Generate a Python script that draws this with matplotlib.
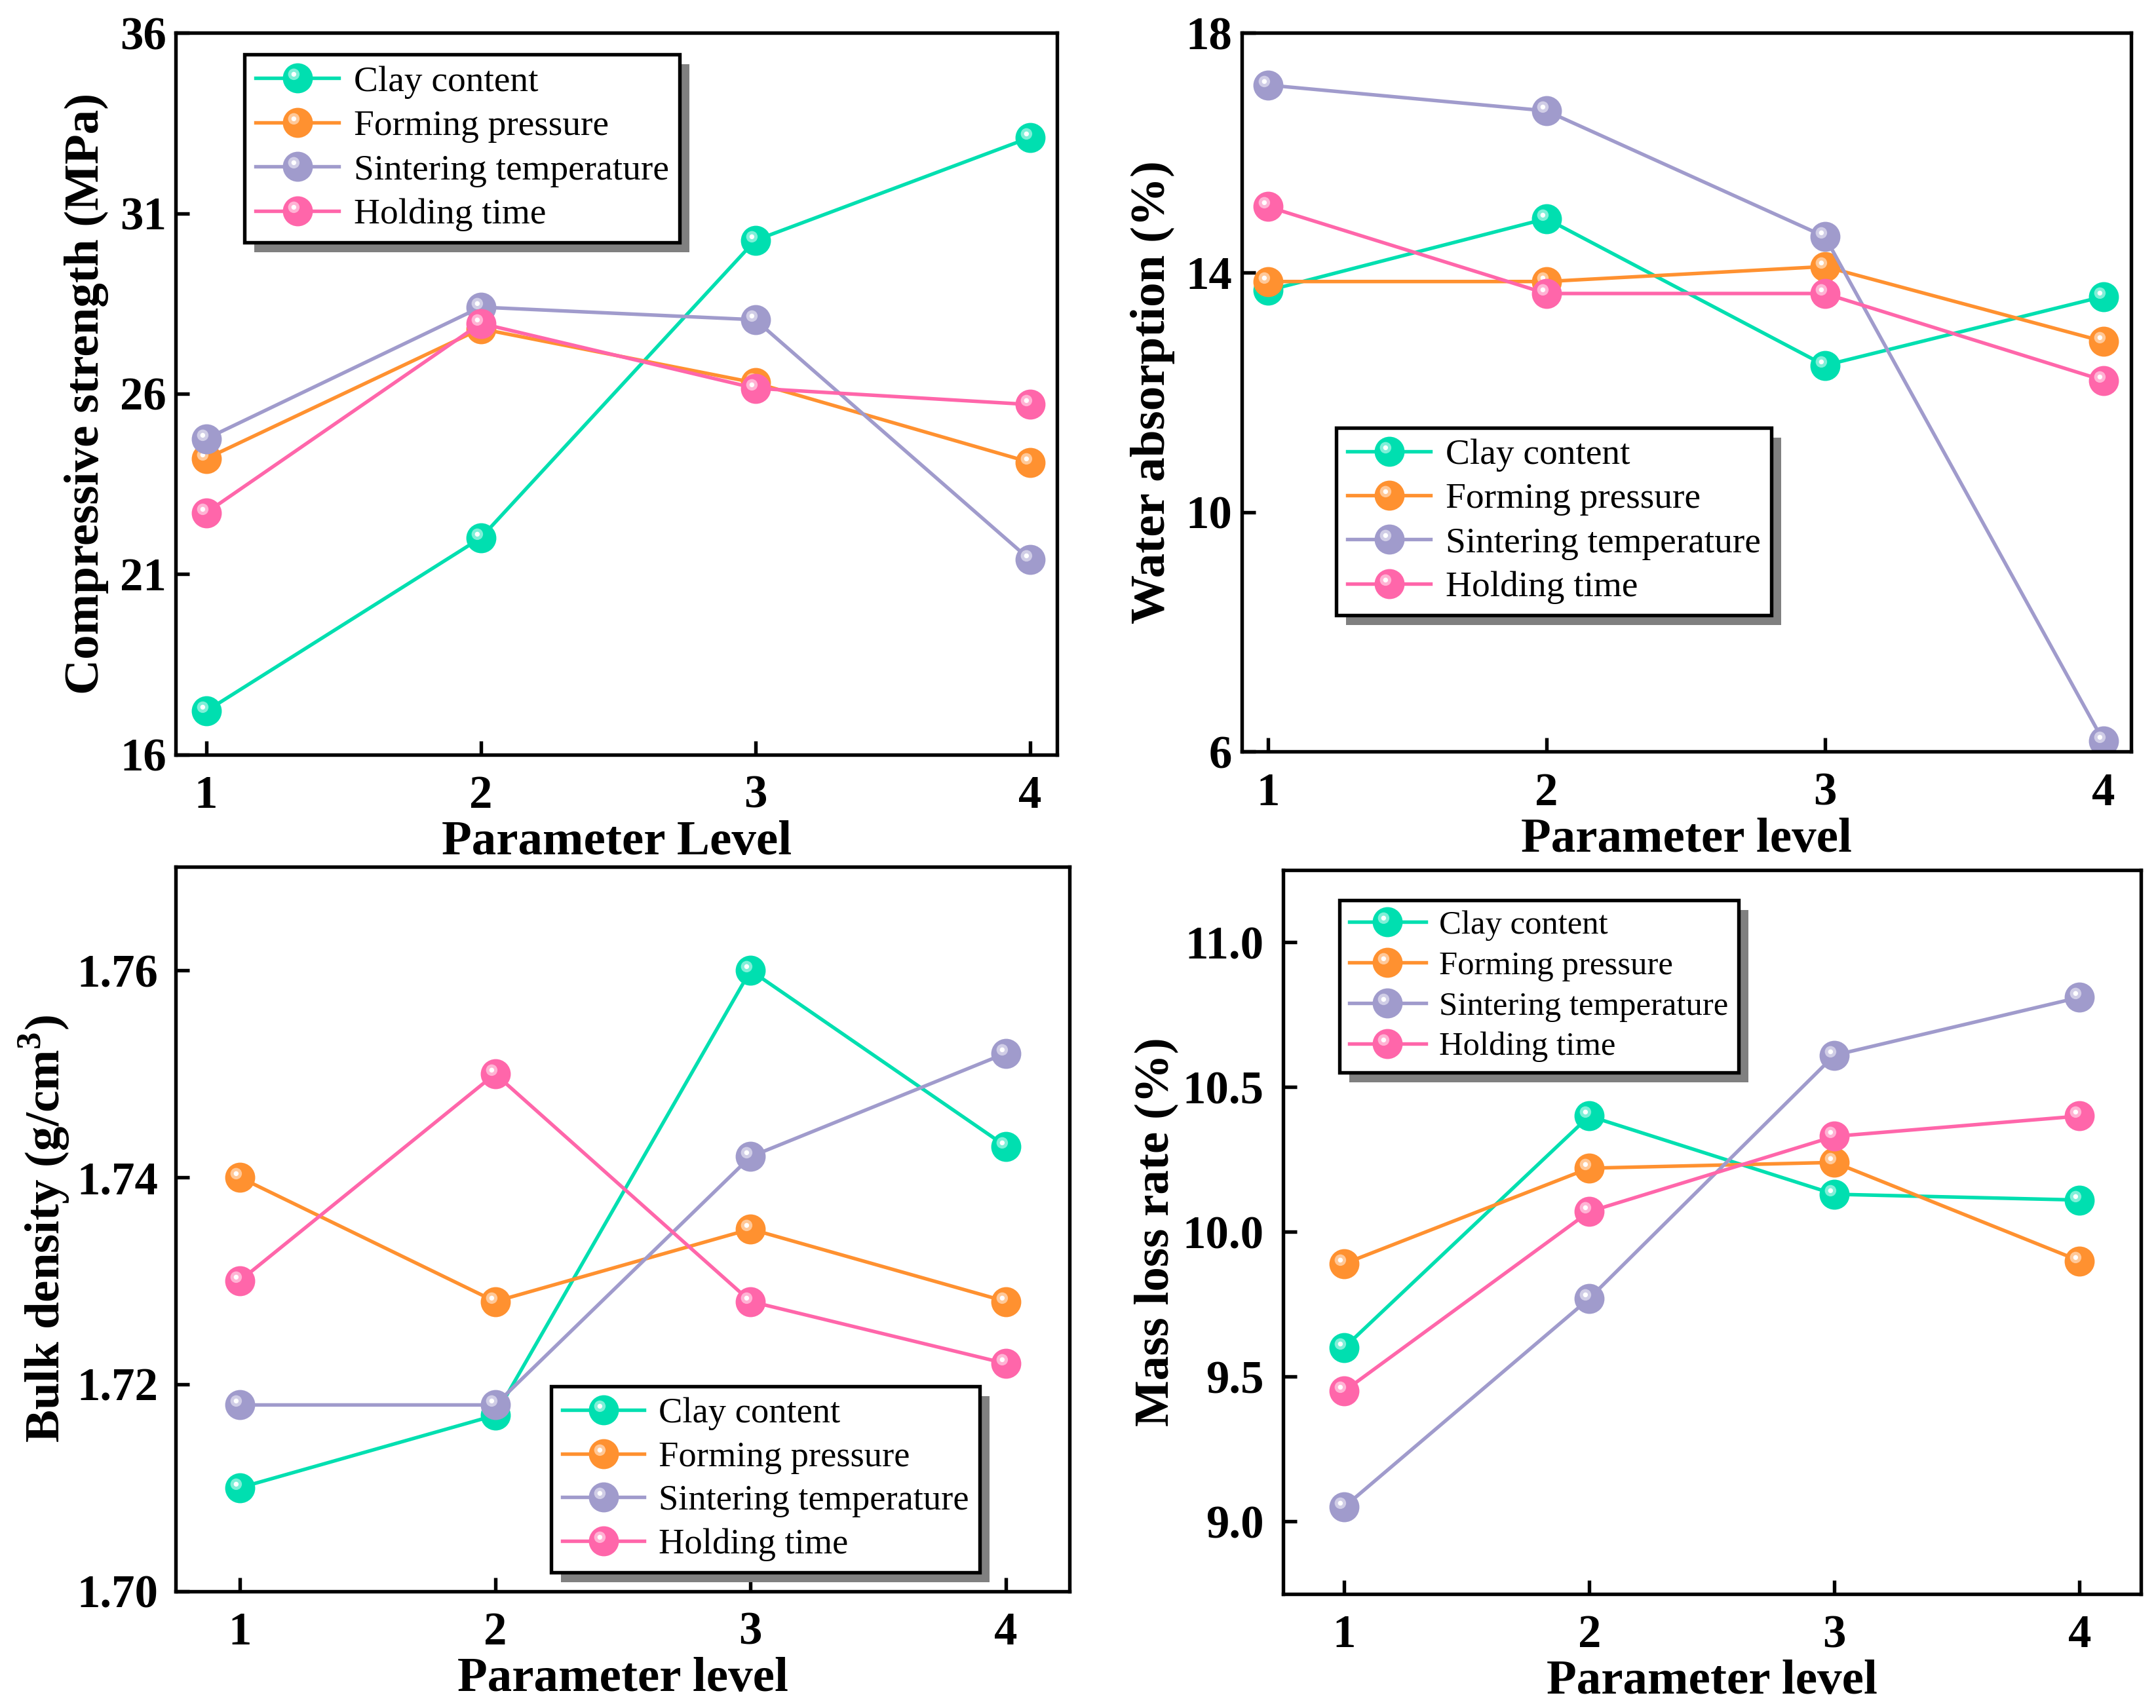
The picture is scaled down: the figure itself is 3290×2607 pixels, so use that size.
import numpy as np
import matplotlib
matplotlib.use("Agg")
import matplotlib.pyplot as plt
from matplotlib.patches import Rectangle
from matplotlib.path import Path
from matplotlib.ticker import FormatStrFormatter
from matplotlib.legend_handler import HandlerTuple
from matplotlib.colors import to_rgb

plt.rcParams['font.family'] = ['Liberation Serif']
plt.rcParams['font.serif'] = ['Liberation Serif']
plt.rcParams['mathtext.fontset'] = 'custom'
plt.rcParams['mathtext.rm'] = 'Liberation Serif'
plt.rcParams['mathtext.bf'] = 'Liberation Serif:bold'

levels = [1, 2, 3, 4]
series_names = ["Clay content", "Forming pressure", "Sintering temperature", "Holding time"]
colors = ["#00DFB0", "#FF9130", "#A09BCC", "#FF66AA"]

# compressive strength (MPa)
cs_clay = [17.2, 22.0, 30.25, 33.1]
cs_forming = [24.2, 27.8, 26.3, 24.1]
cs_sinter = [24.75, 28.4, 28.05, 21.4]
cs_hold = [22.7, 27.95, 26.15, 25.7]

# water absorption (%)
wa_clay = [13.7, 14.9, 12.45, 13.6]
wa_forming = [13.85, 13.85, 14.1, 12.85]
wa_sinter = [17.13, 16.7, 14.6, 6.18]
wa_hold = [15.1, 13.65, 13.65, 12.2]

# bulk density (g/cm3)
bd_clay = [1.710, 1.717, 1.760, 1.743]
bd_forming = [1.740, 1.728, 1.735, 1.728]
bd_sinter = [1.718, 1.718, 1.742, 1.752]
bd_hold = [1.730, 1.750, 1.728, 1.722]

# mass loss rate (%)
ml_clay = [9.60, 10.40, 10.13, 10.11]
ml_forming = [9.89, 10.22, 10.24, 9.90]
ml_sinter = [9.05, 9.77, 10.61, 10.81]
ml_hold = [9.45, 10.07, 10.33, 10.40]

SERIF = 'Liberation Serif'
MS = 10.5


def spot(cx, cy, r):
    # circle marker off-centre; the lone moveto at (1,1) keeps the marker scale
    c = Path.circle((cx, cy), r)
    verts = np.vstack([[1.0, 1.0], c.vertices])
    codes = np.concatenate([[Path.MOVETO], c.codes])
    return Path(verts, codes)


ring = spot(-0.28, 0.28, 0.40)
dot = spot(-0.28, 0.28, 0.17)


def lighten(c, f):
    r, g, b = to_rgb(c)
    return (r + (1 - r) * f, g + (1 - g) * f, b + (1 - b) * f)


def glossy(ax, x, y, color):
    ln, = ax.plot(x, y, '-', color=color, lw=1.3, marker='o', ms=MS,
                  mfc=color, mec=color, mew=0.5)
    h1, = ax.plot(x, y, ls='none', marker=ring, ms=MS, mfc=lighten(color, 0.5),
                  mec='none')
    h2, = ax.plot(x, y, ls='none', marker=dot, ms=MS, mfc='white', mec='none')
    return (ln, h1, h2)


def style_axes(ax, ylabel, xlabel, yticks, ylim, xlim, fmt=None, ypad=3.5, ylpad=4):
    ax.set_xlim(*xlim)
    ax.set_ylim(*ylim)
    ax.set_xticks(levels)
    ax.set_yticks(yticks)
    if fmt:
        ax.yaxis.set_major_formatter(FormatStrFormatter(fmt))
    ax.tick_params(direction='in', length=5, width=1.3, labelsize=17, top=False, right=False)
    ax.tick_params(axis='x', pad=7.5)
    ax.tick_params(axis='y', pad=ypad)
    for lab in ax.get_xticklabels() + ax.get_yticklabels():
        lab.set_fontweight('bold')
        lab.set_family(SERIF)
    for sp in ax.spines.values():
        sp.set_linewidth(1.3)
    ax.set_ylabel(ylabel, fontsize=18, fontweight='bold', family=SERIF, labelpad=ylpad)
    ax.set_xlabel(xlabel, fontsize=18, fontweight='bold', family=SERIF, labelpad=1)


def add_legend(ax, handles, anchor, fs):
    leg = ax.legend(handles, series_names, loc='upper left', bbox_to_anchor=anchor,
                    borderaxespad=0, prop={'family': SERIF, 'size': fs}, frameon=True,
                    fancybox=False, framealpha=1, facecolor='white', edgecolor='black',
                    handlelength=2.3, handletextpad=0.4, labelspacing=0.3,
                    borderpad=0.3, handler_map={tuple: HandlerTuple(ndivide=1, pad=0)})
    leg.get_frame().set_linewidth(1.3)
    return leg


fig = plt.figure(figsize=(3290 / 300, 2607 / 300), dpi=300)
ax1 = fig.add_axes([0.0816, 0.5583, 0.4088, 0.4224])
ax2 = fig.add_axes([0.5759, 0.5599, 0.4126, 0.4208])
ax3 = fig.add_axes([0.0816, 0.0684, 0.4146, 0.4240])
ax4 = fig.add_axes([0.5950, 0.0668, 0.3980, 0.4239])

data = [
    (ax1, [cs_clay, cs_forming, cs_sinter, cs_hold]),
    (ax2, [wa_clay, wa_forming, wa_sinter, wa_hold]),
    (ax3, [bd_clay, bd_forming, bd_sinter, bd_hold]),
    (ax4, [ml_clay, ml_forming, ml_sinter, ml_hold]),
]
handles = {}
for ax, ys in data:
    handles[ax] = [glossy(ax, levels, y, c) for y, c in zip(ys, colors)]

style_axes(ax1, "Compressive strength (MPa)", "Parameter Level",
           [16, 21, 26, 31, 36], (16, 36), (0.89, 4.1))
style_axes(ax2, "Water absorption (%)", "Parameter level",
           [6, 10, 14, 18], (6, 18), (0.906, 4.1))
style_axes(ax3, r"Bulk density (g/cm$^\mathbf{3}$)", "Parameter level",
           [1.70, 1.72, 1.74, 1.76], (1.70, 1.77), (0.75, 4.25), fmt='%.2f',
           ypad=6.5, ylpad=2)
style_axes(ax4, "Mass loss rate (%)", "Parameter level",
           [9.0, 9.5, 10.0, 10.5, 11.0], (8.75, 11.25), (0.75, 4.25), fmt='%.1f',
           ypad=7, ylpad=1.5)

legs = [
    (ax1, add_legend(ax1, handles[ax1], (0.078, 0.97), 13.3)),
    (ax2, add_legend(ax2, handles[ax2], (0.1066, 0.451), 13.3)),
    (ax3, add_legend(ax3, handles[ax3], (0.42, 0.283), 13.1)),
    (ax4, add_legend(ax4, handles[ax4], (0.0657, 0.958), 12.2)),
]

# drop shadow behind each legend box
fig.canvas.draw()
for ax, leg in legs:
    bb = leg.get_frame().get_window_extent()
    sh = Rectangle((bb.x0 + 15, bb.y0 - 15), bb.width, bb.height, transform=None,
                   facecolor='#808080', edgecolor='none', zorder=leg.get_zorder() - 0.1,
                   clip_on=False)
    ax.add_artist(sh)

fig.savefig("out.png", dpi=300)
